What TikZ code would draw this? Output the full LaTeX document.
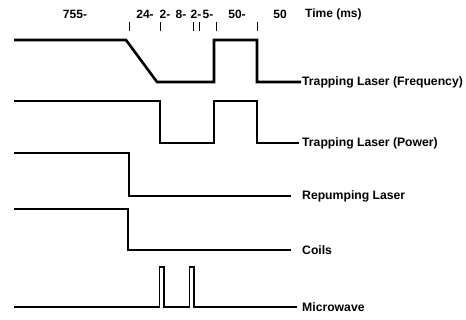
\documentclass[tikz,border=0pt]{standalone}
\usepackage{fontspec}
\setmainfont{Liberation Sans}
\begin{document}
\begin{tikzpicture}[x=1pt,y=-1pt,
  sig/.style={line width=2.6pt, line join=miter},
  mw/.style={line width=1.5pt, line join=miter},
  tick/.style={line width=1pt},
  lbl/.style={anchor=west, inner sep=0pt, font=\fontsize{12.2}{14}\selectfont\bfseries},
  hdr/.style={inner sep=0pt, font=\fontsize{12}{14}\selectfont\bfseries}]
\useasboundingbox (0,0) rectangle (466,320);
% header
\node[hdr] (h1) at (75,14) {755-};
\node[hdr] (h2) at (145,14) {24-};
\node[hdr] (h3) at (165,14) {2-};
\node[hdr] (h4) at (181,14) {8-};
\node[hdr] (h5) at (196,14) {2-};
\node[hdr] (h6) at (208,14) {5-};
\node[hdr] (h7) at (237,14) {50-};
\node[hdr] (h8) at (280,14) {50};
\node[hdr, anchor=west] (h9) at (305,14) {Time (ms)};
% ticks
\foreach \x [count=\i] in {129,160,193,199,216,257}{
  \coordinate (ta\i) at (\x,22);
  \coordinate (tb\i) at (\x,31);
  \draw[tick] (ta\i) -- (tb\i);
}
% labels
\node[lbl] (lf) at (302,82) {Trapping Laser (Frequency)};
\node[lbl] (lp) at (302,143) {Trapping Laser (Power)};
\node[lbl] (lr) at (302,196) {Repumping Laser};
\node[lbl] (lc) at (302,250) {Coils};
\node[lbl] (lm) at (302,307) {Microwave};
% trapping laser frequency
\coordinate (f0) at (14,40);
\draw[sig] (f0) -- (126,40) -- (157,82) -- (214,82) -- (214,40) -- (257,40) -- (257,82) -- ([xshift=-1pt]lf.west);
% trapping laser power
\coordinate (p0) at (14,101);
\draw[sig] (p0) -- (160,101) -- (160,143) -- (214,143) -- (214,101) -- (257,101) -- (257,143) -- ([xshift=-3pt]lp.west);
% repumping
\coordinate (r0) at (14,153);
\draw[sig] (r0) -- (129,153) -- (129,196) -- ([xshift=-11pt]lr.west);
% coils
\coordinate (c0) at (14,209);
\draw[sig] (c0) -- (128,209) -- (128,250) -- ([xshift=-11pt]lc.west);
% microwave
\coordinate (m0) at (14,307);
\draw[mw] (m0) -- (159.5,307) -- (159.5,267) -- (164,267) -- (164,307) -- (189.5,307) -- (189.5,267) -- (194,267) -- (194,307) -- ([xshift=-5pt]lm.west);
\end{tikzpicture}
\end{document}
